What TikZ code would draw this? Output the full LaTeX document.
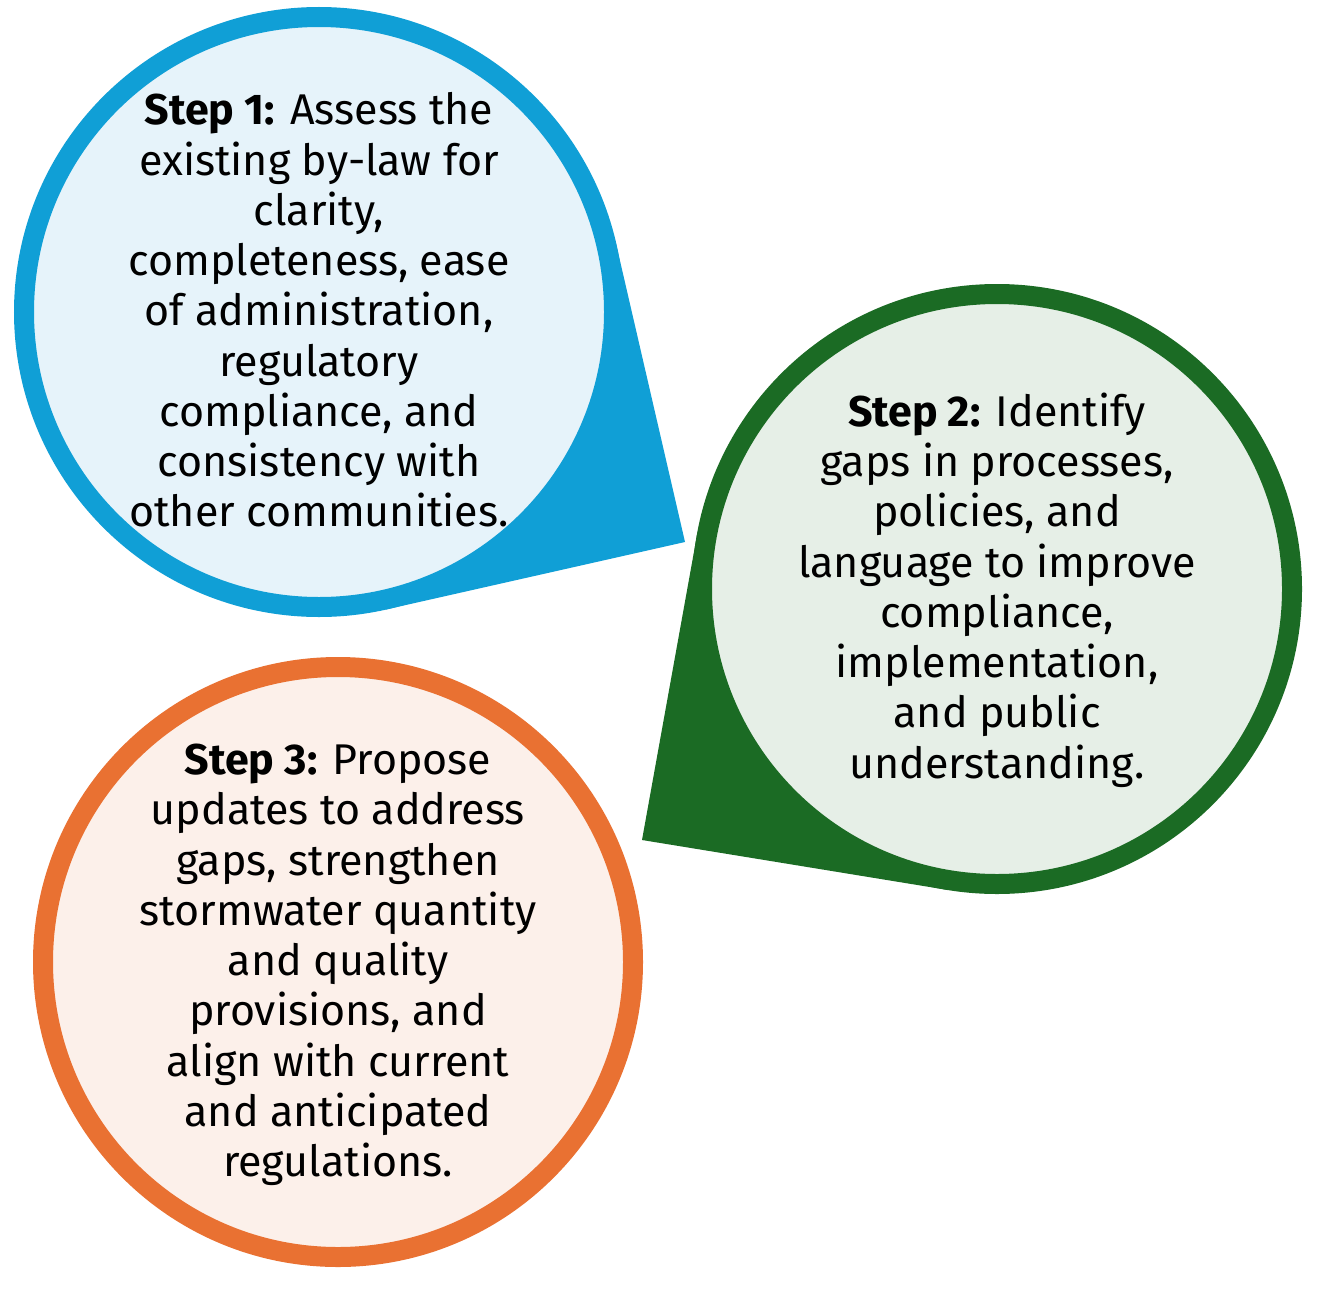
\documentclass[tikz,border=0pt]{standalone}
\usepackage{fontspec}
\setmainfont{Fira Sans}
\definecolor{blueline}{HTML}{109FD6}
\definecolor{bluefill}{HTML}{E6F3FA}
\definecolor{greenline}{HTML}{1B6B24}
\definecolor{greenfill}{HTML}{E6EFE7}
\definecolor{orangeline}{HTML}{E97132}
\definecolor{orangefill}{HTML}{FCF0EA}
\begin{document}
\begin{tikzpicture}[x=1pt,y=-1pt,
  bubble/.style={circle, inner sep=0pt, outer sep=0pt, minimum size=590pt, line width=20pt},
  steptext/.style={align=center, font=\fontsize{43}{50.25}\selectfont, text=black, inner sep=0pt},
]
\useasboundingbox (0,0) rectangle (1319,1303);
% tail tips
\coordinate (t1) at (685,542);
\coordinate (t2) at (642,840);
% bubble 1 tail
\fill[blueline] (t1) -- (616,243.5) -- (319,312) -- (386,609.5) -- cycle;
\node[bubble, draw=blueline, fill=bluefill] (c1) at (319,312) {};
% bubble 2 tail
\fill[greenline] (t2) -- (697,535) -- (997,589) -- (948,890) -- cycle;
\node[bubble, draw=greenline, fill=greenfill] (c2) at (997,589) {};
% bubble 3
\node[bubble, draw=orangeline, fill=orangefill] (c3) at (338,962) {};
% texts
\node[steptext] (s1) at ([yshift=2pt]c1) {\textbf{Step 1:} Assess the\\existing by-law for\\clarity,\\completeness, ease\\of administration,\\regulatory\\compliance, and\\consistency with\\other communities.};
\node[steptext] (s2) at ([yshift=-1pt]c2) {\textbf{Step 2:} Identify\\gaps in processes,\\policies, and\\language to improve\\compliance,\\implementation,\\and public\\understanding.};
\node[steptext] (s3) at ([yshift=-3pt]c3) {\textbf{Step 3:} Propose\\updates to address\\gaps, strengthen\\stormwater quantity\\and quality\\provisions, and\\align with current\\and anticipated\\regulations.};
\end{tikzpicture}
\end{document}
